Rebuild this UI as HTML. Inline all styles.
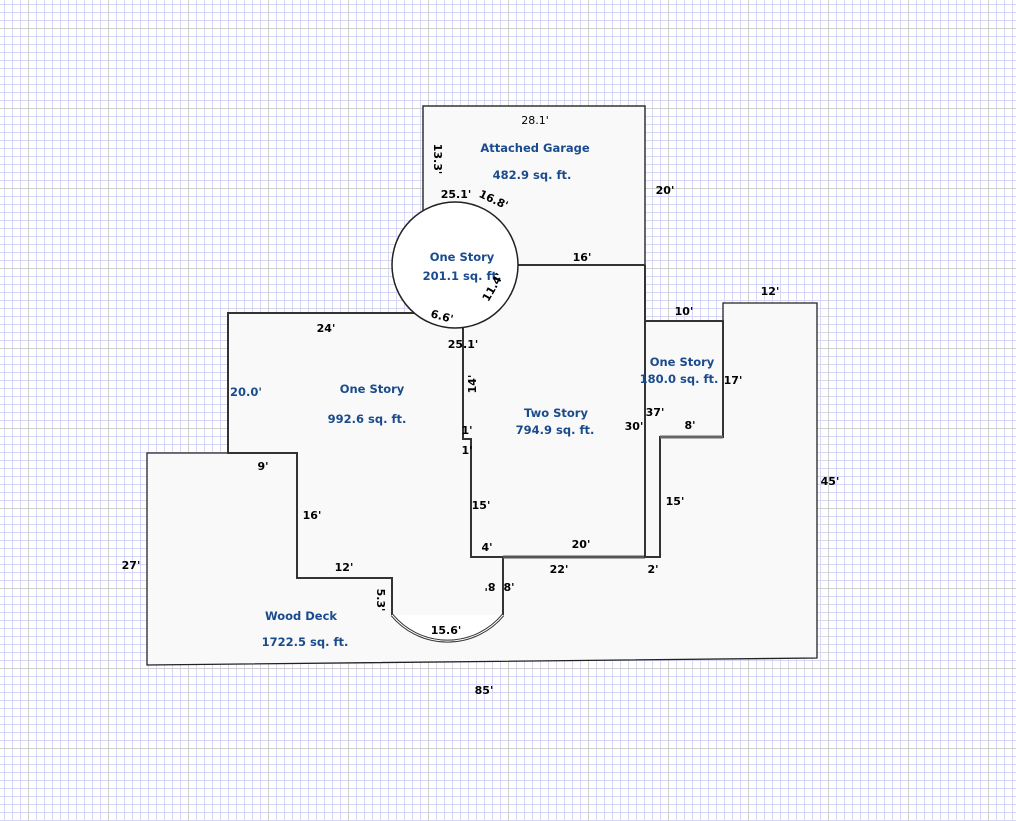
<!DOCTYPE html>
<html><head><meta charset="utf-8"><style>
html,body{margin:0;padding:0;background:#fff}
svg{display:block}
text{font-family:"DejaVu Sans","Liberation Sans",sans-serif;font-weight:bold;font-size:11px;fill:#000}
.b{fill:#1a4b8c;font-size:11.5px}
</style></head><body>
<svg width="1016" height="821" viewBox="0 0 1016 821" xmlns="http://www.w3.org/2000/svg">
<defs>
<pattern id="g" width="8" height="8" patternUnits="userSpaceOnUse" x="4" y="4">
<path d="M0 0.5H8M0.5 0V8" stroke="#d6d6f6" stroke-width="1"/>
</pattern>
<pattern id="G" width="80" height="80" patternUnits="userSpaceOnUse" x="28" y="28">
<path d="M0 0.5H80M0.5 0V80" stroke="#cfcfcf" stroke-width="1"/>
</pattern>
</defs>
<rect width="1016" height="821" fill="url(#g)"/>
<rect width="1016" height="821" fill="url(#G)"/>

<!-- deck -->
<polygon points="147,453 147,665 817,658 817,303 723,303 723,437 660,437 660,557 645,557 503,557 503,615 392,615 392,578 297,578 297,453" fill="#f9f9f9" stroke="none"/>
<path d="M297 453 H147 V665 L817 658 V303 H723 V321" fill="none" stroke="#222" stroke-width="1.3"/>
<!-- one story left -->
<polygon points="228,313 415,313 463,328 463,439 471,439 471,557 503,557 503,615 392,615 392,578 297,578 297,453 228,453" fill="#f9f9f9" stroke="none"/>
<path d="M503 615 V557 H471 V439 H463 V328 M415 313 H228 V453 H297 V578 H392 V615" fill="none" stroke="#333" stroke-width="2"/>
<path d="M392 615 A72 72 0 0 0 503 615 Z" fill="#fff" stroke="none"/>
<path d="M392 615 A72 72 0 0 0 503 615" fill="none" stroke="#333" stroke-width="3"/>
<path d="M392 615 A72 72 0 0 0 503 615" fill="none" stroke="#fff" stroke-width="1"/>
<!-- two story -->
<polygon points="463,265 645,265 645,557 471,557 471,439 463,439" fill="#f9f9f9" stroke="none"/>
<path d="M463 328 V439 H471 V557 H645 V265" fill="none" stroke="#333" stroke-width="2"/>
<line x1="503" y1="557" x2="645" y2="557" stroke="#555" stroke-width="3"/>
<!-- garage -->
<rect x="423" y="106" width="222" height="159" fill="#f9f9f9" stroke="#333" stroke-width="1.5"/>
<line x1="518" y1="265" x2="645" y2="265" stroke="#333" stroke-width="2"/>
<!-- right one story -->
<polygon points="645,321 723,321 723,437 660,437 660,557 645,557" fill="#f9f9f9" stroke="#333" stroke-width="2"/>
<line x1="660" y1="437" x2="723" y2="437" stroke="#666" stroke-width="3"/>
<!-- circle -->
<circle cx="455" cy="265" r="63" fill="#fff" stroke="#222" stroke-width="1.5"/>

<!-- labels -->
<text class="b" x="535" y="152" text-anchor="middle">Attached Garage</text>
<text class="b" x="532" y="179" text-anchor="middle">482.9 sq. ft.</text>
<text class="b" x="462" y="261" text-anchor="middle">One Story</text>
<text class="b" x="462" y="280" text-anchor="middle">201.1 sq. ft.</text>
<text class="b" x="372" y="393" text-anchor="middle">One Story</text>
<text class="b" x="367" y="423" text-anchor="middle">992.6 sq. ft.</text>
<text class="b" x="556" y="417" text-anchor="middle">Two Story</text>
<text class="b" x="555" y="434" text-anchor="middle">794.9 sq. ft.</text>
<text class="b" x="682" y="366" text-anchor="middle">One Story</text>
<text class="b" x="679" y="383" text-anchor="middle">180.0 sq. ft.</text>
<text class="b" x="301" y="620" text-anchor="middle">Wood Deck</text>
<text class="b" x="305" y="646" text-anchor="middle">1722.5 sq. ft.</text>
<text class="b" x="246" y="396" text-anchor="middle">20.0'</text>

<text x="535" y="124" text-anchor="middle" style="font-weight:normal">28.1'</text>
<text x="456" y="198" text-anchor="middle">25.1'</text>
<text x="492" y="203" text-anchor="middle" transform="rotate(25 492 203)">16.8'</text>
<text x="665" y="194" text-anchor="middle">20'</text>
<text x="582" y="261" text-anchor="middle">16'</text>
<text x="496" y="289" text-anchor="middle" transform="rotate(-60 496 289)">11.4'</text>
<text x="441" y="320" text-anchor="middle" transform="rotate(15 441 320)">6.6'</text>
<text x="463" y="348" text-anchor="middle">25.1'</text>
<text x="326" y="332" text-anchor="middle">24'</text>
<text x="684" y="315" text-anchor="middle">10'</text>
<text x="770" y="295" text-anchor="middle">12'</text>
<text x="733" y="384" text-anchor="middle">17'</text>
<text x="655" y="416" text-anchor="middle">37'</text>
<text x="634" y="430" text-anchor="middle">30'</text>
<text x="690" y="429" text-anchor="middle">8'</text>
<text x="467" y="434" text-anchor="middle">1'</text>
<text x="467" y="454" text-anchor="middle">1'</text>
<text x="263" y="470" text-anchor="middle">9'</text>
<text x="830" y="485" text-anchor="middle">45'</text>
<text x="481" y="509" text-anchor="middle">15'</text>
<text x="675" y="505" text-anchor="middle">15'</text>
<text x="312" y="519" text-anchor="middle">16'</text>
<text x="487" y="551" text-anchor="middle">4'</text>
<text x="581" y="548" text-anchor="middle">20'</text>
<text x="559" y="573" text-anchor="middle">22'</text>
<text x="653" y="573" text-anchor="middle">2'</text>
<text x="131" y="569" text-anchor="middle">27'</text>
<text x="344" y="571" text-anchor="middle">12'</text>
<text x="509" y="591" text-anchor="middle">8'</text>
<text x="446" y="634" text-anchor="middle">15.6'</text>
<text x="484" y="694" text-anchor="middle">85'</text>
<text x="476" y="384" text-anchor="middle" transform="rotate(-90 476 384)">14'</text>
<text x="434" y="159" text-anchor="middle" transform="rotate(90 434 159)">13.3'</text>
<text x="377" y="600" text-anchor="middle" transform="rotate(90 377 600)">5.3'</text>
<text x="490" y="591" text-anchor="middle" transform="rotate(180 490 587)">8'</text>
</svg>
</body></html>
